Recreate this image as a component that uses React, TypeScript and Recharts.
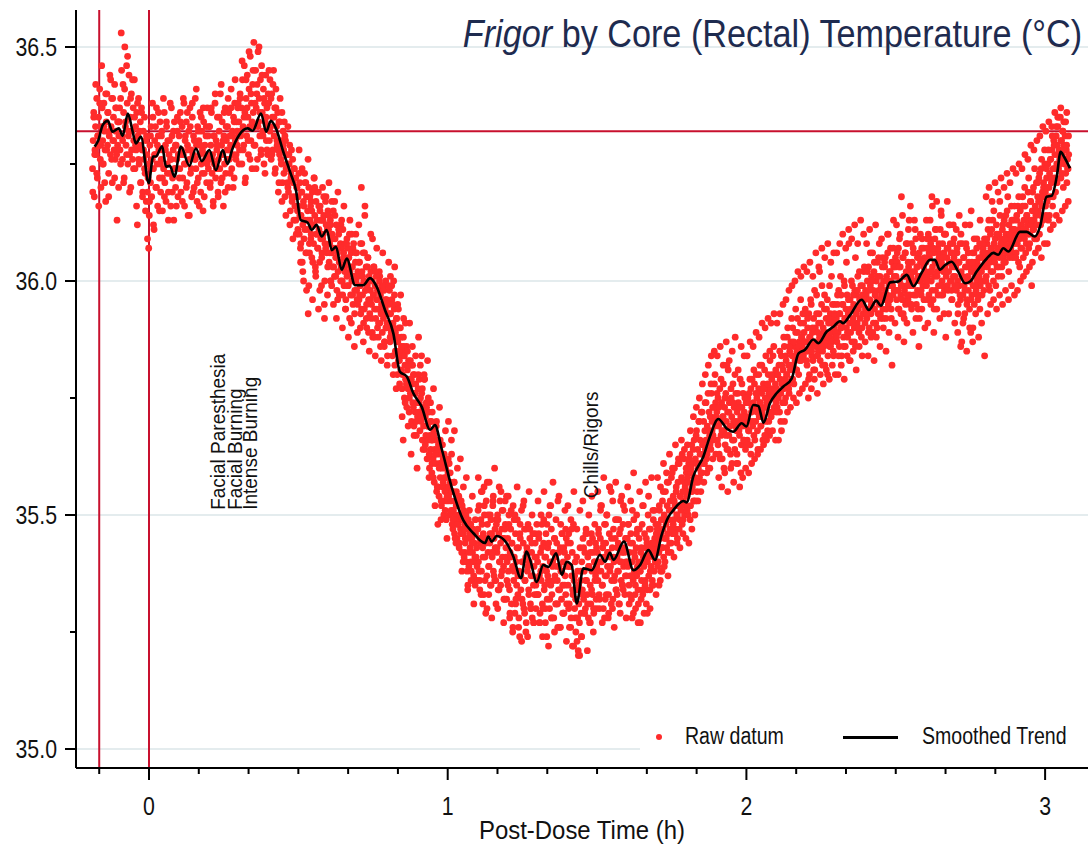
import React from 'react';
import { ComposedChart, Scatter, XAxis, YAxis, CartesianGrid, ReferenceLine, Legend } from 'recharts';

const FONT = "'Liberation Sans', Arial, sans-serif";
const NARROW = 0.82; // Arial Narrow look
const RED = '#ff2b2b';
const CRIMSON = '#c8102e';
const NAVY = '#1e2b4f';

// smoothed trend (h, °C)
const trendTime = [
  -0.182, -0.17, -0.155, -0.138, -0.122, -0.101, -0.088, -0.071, -0.055, -0.044, -0.027, -0.001,
  0.014, 0.023, 0.044, 0.057, 0.07, 0.085, 0.107, 0.135, 0.157, 0.177, 0.202, 0.224, 0.247, 0.263,
  0.278, 0.302, 0.33, 0.347, 0.375, 0.392, 0.408, 0.425, 0.45, 0.474, 0.492, 0.508, 0.531, 0.545,
  0.561, 0.578, 0.595, 0.612, 0.626, 0.645, 0.662, 0.69, 0.717, 0.74, 0.762, 0.79, 0.818, 0.84,
  0.863, 0.885, 0.913, 0.941, 0.957, 0.98, 1.013, 1.052, 1.086, 1.125, 1.136, 1.147, 1.164, 1.197,
  1.22, 1.245, 1.264, 1.276, 1.298, 1.32, 1.337, 1.363, 1.382, 1.398, 1.415, 1.432, 1.454, 1.482,
  1.51, 1.527, 1.543, 1.555, 1.59, 1.622, 1.644, 1.672, 1.694, 1.716, 1.739, 1.755, 1.789, 1.8,
  1.822, 1.856, 1.878, 1.906, 1.934, 1.956, 1.984, 2.0, 2.023, 2.04, 2.057, 2.079, 2.101, 2.123,
  2.152, 2.174, 2.196, 2.224, 2.241, 2.269, 2.291, 2.313, 2.324, 2.347, 2.386, 2.41, 2.435, 2.45,
  2.481, 2.509, 2.537, 2.559, 2.587, 2.615, 2.631, 2.648, 2.665, 2.687, 2.709, 2.732, 2.749, 2.771,
  2.805, 2.827, 2.843, 2.86, 2.877, 2.916, 2.938, 2.966, 2.983, 3.005, 3.022, 3.039, 3.052, 3.063,
  3.083,
];
const trendTemp = [
  36.287, 36.3, 36.333, 36.342, 36.319, 36.326, 36.31, 36.358, 36.32, 36.294, 36.308, 36.209,
  36.266, 36.266, 36.288, 36.244, 36.246, 36.223, 36.287, 36.246, 36.283, 36.256, 36.28, 36.237, 36.28, 36.25,
  36.28, 36.312, 36.326, 36.321, 36.358, 36.319, 36.342, 36.326, 36.275, 36.23, 36.194, 36.13, 36.125, 36.109,
  36.12, 36.095, 36.109, 36.066, 36.073, 36.024, 36.048, 35.991, 35.991, 36.006, 35.988, 35.938, 35.888, 35.806,
  35.796, 35.76, 35.731, 35.682, 35.692, 35.641, 35.56, 35.489, 35.461, 35.44, 35.454, 35.443, 35.455, 35.44,
  35.411, 35.365, 35.422, 35.404, 35.357, 35.393, 35.389, 35.418, 35.372, 35.4, 35.393, 35.311, 35.386, 35.382,
  35.415, 35.4, 35.419, 35.404, 35.443, 35.382, 35.393, 35.425, 35.404, 35.457, 35.496, 35.51, 35.53, 35.527,
  35.582, 35.625, 35.668, 35.705, 35.685, 35.678, 35.696, 35.689, 35.735, 35.733, 35.697, 35.739, 35.76, 35.774,
  35.792, 35.845, 35.853, 35.875, 35.867, 35.892, 35.902, 35.914, 35.91, 35.927, 35.96, 35.938, 35.958, 35.947,
  35.997, 35.999, 36.013, 35.989, 36.018, 36.045, 36.045, 36.024, 36.034, 36.041, 36.02, 35.995, 35.999, 36.02,
  36.048, 36.06, 36.056, 36.07, 36.063, 36.105, 36.105, 36.095, 36.116, 36.18, 36.182, 36.223, 36.276, 36.266,
  36.241,
];

// raw readings, hundredths of a degree above 35 °C; one string per time block (see blockEdges)
const blockEdges = [
  -0.19, -0.1, 0, 0.1, 0.2, 0.3, 0.4, 0.5, 0.6, 0.7, 0.8, 0.9, 1.0, 1.1, 1.2, 1.3, 1.4, 1.5, 1.6,
  1.7, 1.8, 1.9, 2.0, 2.1, 2.2, 2.3, 2.4, 2.5, 2.6, 2.7, 2.8, 2.9, 3.0, 3.08,
];
const preDoseRaw = [
  '124 130 136 118 128 133 127 139 122 131 135 129 141 126 120 133 137 130 125 138 132 128 117 134 140 129 136 123 131 144 127 133 139 121 130 135 128 142 126 132 137 113 129 134 131',
  '134 128 139 153 131 126 142 136 122 150 133 129 146 138 125 131 144 127 135 120 140 132 126 137 130 143 124 133 128 136 112 131 139 125 129 134 121 137 128 119 132 126 135 123 130 117 127 109 122 107',
];
const plateauRaw = [
  '114 129 121 133 118 126 135 124 111 130 127 120 137 125 116 131 128 122 134 119 126 132 115 128 124 136 121 129 117 133 125 130 119 127 123 138 116 126 131 122 128 113 134 124 120 129 126 132 118 127',
  '131 124 136 119 128 133 122 127 138 116 130 125 134 121 129 114 132 126 137 123 128 118 135 127 131 120 126 139 124 129 117 133 122 130 127 136 119 125 132 128 115 134 123 129 126 131 121 137 127 124',
  '126 133 120 129 136 123 127 117 131 125 138 122 130 128 135 119 126 132 124 140 121 129 134 127 116 131 125 137 123 130 128 133 120 136 126 131 129 141 124 132 127 135 122 138 130 126 134 129 137 131',
  '134 128 140 131 137 125 143 133 129 146 136 122 139 131 144 135 127 141 133 148 130 138 124 142 136 151 133 129 145 137 140 126 149 134 139 131 143 128 146 136 132 141 125 138 134 144 130 137 127 140',
  '138 130 143 133 126 140 135 128 145 131 137 124 141 133 129 136 119 134 127 139 130 125 136 121 132 128 134 118 130 124 127 121 133 119 125 129 115 123 128 117 126 121 113 124 118 122 110 120 115 118',
];
const coolingRaw = [
  '116 110 121 107 114 119 104 112 117 109 123 113 106 118 111 115 93 120 108 113 116 110 105 119 112 108 122 114 103 117 110 113 107 119 111 104 116 109 113 106 120 110 114 95 108 117 112 106 111 115',
  '111 104 108 113 100 106 110 103 115 107 101 109 105 112 98 106 102 110 104 97 108 103 107 100 111 105 99 103 108 96 104 101 107 99 105 110 102 97 106 100 103 95 108 101 98 104 100 106 96 102',
  '101 96 104 99 93 120 102 97 106 100 94 116 98 103 90 99 105 96 101 93 98 102 95 100 88 97 103 94 99 92 101 96 90 98 94 102 91 97 93 99 89 95 92 98 87 94 90 96 91 93',
  '95 90 98 87 93 89 96 84 91 100 94 82 89 85 92 80 87 83 90 78 85 81 88 77 84 66 86 75 82 79 85 73 81 77 83 72 79 76 82 70 78 74 80 69 76 72 78 67 74 71',
  '77 72 79 68 75 71 76 66 73 69 80 64 71 67 73 62 69 66 72 60 67 64 70 59 66 62 68 57 64 61 66 55 63 48 65 54 61 58 63 52 60 56 62 50 58 55 60 49 56 53',
  '59 54 61 50 57 53 63 48 55 51 57 46 53 50 55 45 52 48 54 44 50 47 53 42 49 46 51 41 48 45 50 40 47 34 49 39 46 43 48 38 45 42 47 37 44 41 46 36 43 40',
];
const troughRaw = [
  '47 40 52 36 44 49 38 55 43 46 33 50 41 45 53 37 48 42 39 57 44 35 49 46 41 52 38 45 60 43 36 48 42 50 34 46 40 53 44 37 47 41 51 39 45 32 48 43 54 40',
  '45 38 50 34 42 47 31 44 39 52 36 41 29 46 40 35 49 33 43 38 24 45 37 51 32 40 44 30 47 36 41 27 43 38 48 34 40 45 31 37 42 28 46 35 39 33 44 30 41 36',
  '40 33 45 37 29 42 36 48 31 39 44 34 41 27 46 38 32 43 36 50 30 40 35 47 33 39 42 28 45 37 41 31 44 36 53 34 39 26 43 38 32 46 35 40 29 42 37 33 45 39',
  '41 35 46 31 39 44 28 37 42 33 48 36 30 40 25 34 23 38 21 31 27 43 36 29 40 34 45 32 38 42 30 47 36 33 41 28 39 44 35 31 46 38 33 42 29 40 36 44 32 39',
  '42 36 47 33 40 45 38 52 35 43 30 41 48 37 44 33 50 39 42 29 46 38 41 55 36 43 32 47 40 37 45 34 49 41 38 44 31 46 40 53 36 42 35 48 39 43 33 45 40 37',
  '45 39 48 35 42 37 46 32 40 44 36 49 38 41 30 43 37 47 34 40 45 38 27 42 36 48 33 41 39 46 35 43 31 44 40 50 37 42 34 47 39 44 36 51 41 38 45 42 48 43',
];
const rewarmingRaw = [
  '44 39 48 42 51 45 38 49 43 53 47 41 50 45 55 48 43 52 46 57 49 44 53 47 58 51 46 54 49 60 52 47 55 50 45 57 52 61 49 54 51 58 48 55 53 62 50 56 52 59',
  '54 58 50 61 55 63 52 59 65 56 61 53 66 58 62 57 68 55 64 60 70 58 66 61 72 59 65 63 70 61 68 64 74 62 69 66 60 72 67 71 64 76 68 73 66 70 78 69 74 71',
  '72 66 75 69 63 77 70 67 74 62 71 78 68 73 65 76 70 64 72 81 67 74 69 63 75 71 66 78 70 73 64 69 76 68 72 61 74 70 67 79 71 65 73 69 76 66 72 70 64 74',
  '71 66 74 68 76 70 65 77 72 79 69 74 67 78 73 70 80 75 68 73 77 71 82 74 69 76 72 66 78 73 81 75 70 77 74 68 80 76 72 83 77 71 79 75 84 76 73 80 78 74',
  '77 73 80 75 82 72 79 76 84 78 74 81 77 86 79 75 83 80 88 78 82 76 85 81 87 79 84 90 82 78 86 83 89 81 85 92 84 80 87 85 91 83 88 86 93 84 89 87 94 85',
  '87 82 90 85 93 80 88 86 95 84 89 83 92 87 81 90 86 97 84 89 85 93 88 83 91 87 99 85 90 86 94 82 89 92 87 96 84 91 88 86 93 89 101 87 92 85 90 95 88 91',
  '92 87 95 89 98 86 93 90 97 84 91 95 88 100 92 86 94 90 97 88 93 108 91 96 89 94 87 99 92 95 90 98 86 93 97 91 101 94 89 96 92 99 95 90 97 93 102 96 91 98',
  '97 92 100 94 103 90 96 99 93 101 95 89 98 102 94 97 91 100 96 104 93 98 95 101 92 99 97 105 94 100 96 103 98 92 101 97 106 95 99 102 96 100 94 104 99 97 103 101 98 105',
  '101 96 104 98 107 94 100 103 97 118 99 105 93 101 98 106 95 102 99 108 96 103 100 97 116 101 94 104 99 106 97 102 100 109 95 103 98 101 105 92 100 104 97 107 101 99 103 96 105 102',
  '104 99 107 101 110 97 105 102 108 100 118 103 96 106 101 109 98 104 117 102 107 99 105 103 111 97 104 100 108 102 106 98 103 110 101 105 99 107 102 104 112 100 106 98 103 108 101 105 99 104',
  '103 98 106 100 95 104 99 108 96 102 87 101 97 105 99 93 103 100 107 96 101 98 104 94 100 89 102 97 106 99 103 95 101 104 98 107 100 96 103 101 108 99 105 102 97 106 103 100 109 104',
  '105 101 108 103 111 99 106 104 110 102 107 105 113 100 108 104 109 106 112 103 107 101 110 105 114 106 109 103 111 107 105 113 108 104 110 106 115 109 107 112 105 110 108 116 111 106 113 109 111 108',
  '110 106 113 108 116 104 111 109 115 107 112 110 118 105 113 109 116 111 108 114 112 119 107 113 110 117 112 99 115 111 120 113 109 116 114 121 112 118 115 122 110 117 114 124 116 119 113 121 118 125',
  '119 114 122 117 125 113 120 123 118 126 121 128 116 124 130 122 127 119 131 125 129 133 124 128 126 135 122 130 127 132 120 129 125 131 123 128 121 126 124 127',
];
// second probe channel, same blocks
const probeTwoRaw = [
  '119 135 127 142 123 131 116 138 129 146 125 133 121 140 128 136 118 132 143 126 139 130 122 137 127 134 120',
  '137 125 145 130 121 141 134 127 148 132 119 139 128 143 124 135 129 116 138 126 132 121 136 118 128 124 115 131 119 125',
  '117 131 124 138 112 127 133 120 129 136 115 125 131 122 139 118 128 134 123 113 130 126 137 119 132 124 129 116 135 127',
  '122 134 127 117 139 125 131 120 136 128 114 133 124 138 119 130 126 141 121 132 116 129 135 123 137 118 127 133 125 131',
  '133 121 137 126 116 131 140 124 129 118 135 127 142 122 130 136 119 133 126 139 128 123 137 131 120 134 143 127 132 138',
  '125 139 132 147 128 135 121 143 137 130 149 126 140 134 145 129 138 124 142 133 150 136 127 144 131 139 123 135 128 133',
  '145 132 139 127 142 135 123 137 130 128 121 134 126 117 129 123 131 114 125 120 127 112 122 118 109 124 116 113 120 111',
  '123 114 108 119 102 116 111 121 106 113 99 118 109 115 104 112 120 101 110 107 116 98 113 105 109 118 100 107 112 103',
  '114 106 112 99 109 103 117 101 107 96 111 104 100 113 97 106 102 94 108 99 105 92 103 110 97 101 93 106 98 95',
  '104 97 108 94 101 91 106 98 95 103 89 100 96 92 109 97 88 102 94 98 91 100 86 95 93 99 87 96 90 84',
  '99 93 101 88 95 90 97 85 92 88 94 83 90 86 80 88 84 91 78 85 82 75 83 79 86 73 80 76 70 74',
  '80 74 82 70 77 72 79 65 74 69 75 63 70 66 72 58 67 63 69 56 64 60 66 53 61 57 63 51 58 54',
  '62 56 59 51 55 49 57 45 52 48 54 43 50 46 52 40 47 44 49 38 45 42 48 36 44 40 46 35 41 39',
  '51 38 45 33 48 41 56 36 44 30 50 39 46 35 42 53 37 47 31 43 49 34 40 55 38 45 32 47 41 36',
  '35 48 29 41 44 26 38 50 32 43 37 28 46 34 40 31 53 36 25 42 39 33 47 30 44 37 27 41 35 48',
  '33 46 27 38 43 30 49 35 41 24 37 44 32 52 28 40 36 45 31 39 26 42 34 48 38 29 43 35 47 31',
  '44 30 39 26 47 34 22 37 32 41 28 35 20 38 24 33 43 29 36 46 31 39 27 42 34 45 30 40 37 43',
  '38 46 32 51 40 35 44 28 48 37 42 33 56 39 45 30 41 36 49 34 43 38 31 47 40 35 52 42 37 45',
  '40 48 33 44 37 51 29 42 35 46 39 31 47 38 43 34 52 40 36 45 29 41 47 38 43 35 49 44 40 46',
  '47 40 52 36 46 43 55 39 49 45 57 42 51 47 44 59 48 53 46 56 50 61 47 54 52 63 49 57 55 60',
  '51 57 62 49 60 55 64 58 53 67 61 57 70 63 59 72 65 61 74 66 63 76 68 65 78 70 67 73 80 71',
  '76 65 73 62 79 68 71 60 75 67 82 64 72 69 77 61 74 66 80 70 63 76 68 73 59 78 71 66 75 69',
  '65 75 68 79 63 73 70 81 66 76 72 64 80 74 69 82 71 77 67 84 73 78 70 85 75 80 72 86 77 81',
  '72 80 76 85 70 82 78 88 74 84 80 90 77 86 82 92 79 87 84 94 81 89 86 83 96 88 85 91 87 93',
  '83 92 79 88 96 85 90 81 98 87 93 84 91 102 86 95 82 89 97 88 94 80 92 99 86 91 95 84 93 89',
  '88 97 84 93 101 90 95 86 99 92 104 89 96 83 94 100 91 97 87 105 93 98 90 102 95 88 99 96 103 94',
  '93 102 89 98 106 95 100 91 104 97 88 101 96 108 93 99 103 90 97 105 94 100 110 96 102 92 99 107 98 103',
  '98 106 94 103 110 99 96 105 92 101 108 97 104 113 99 95 102 107 100 111 97 103 94 106 101 98 109 104 96 102',
  '100 109 96 106 113 102 98 107 94 104 111 101 97 108 103 115 99 105 93 110 102 107 98 112 104 100 96 106 109 101',
  '99 107 93 104 97 110 101 91 105 98 108 95 103 100 112 96 104 90 106 99 102 109 97 105 94 103 100 108 98 106',
  '100 109 104 113 98 107 111 102 115 105 99 110 106 103 117 108 101 112 104 109 114 106 118 102 110 107 113 105 111 116',
  '105 114 109 118 103 112 107 116 111 120 106 114 110 122 108 117 113 119 111 124 115 109 121 117 123 112 126 118 120 128',
  '116 124 120 128 114 126 122 131 118 129 124 133 121 127 135 125 130 123 132 128 126 134 129 124 131',
];
// wider-spread readings from 0.5 h onwards (block 7 = 0.5–0.6 h)
const probeThreeFirstBlock = 7;
const probeThreeRaw = [
  '128 104 124 100 121 98 126 106 117 96 122 102 119 94 115 99 113 92 118 97',
  '121 100 117 95 114 92 119 97 112 90 116 94 109 88 113 91 107 86 110 89',
  '112 90 108 87 114 92 105 85 110 89 103 84 107 88 101 83 106 86 100 82',
  '104 88 99 80 103 77 95 84 97 71 92 74 86 69 91 63 82 67 84 60',
  '88 72 84 64 79 66 83 58 74 61 77 52 70 56 73 49 65 53 68 45',
  '70 55 66 47 68 44 60 49 62 38 56 42 58 35 51 40 54 31 49 36',
  '58 34 55 31 52 29 57 33 50 28 54 36 49 30 56 35 51 27 53 32',
  '54 28 51 25 49 31 56 26 48 23 52 29 47 24 55 30 50 27 46 33',
  '53 27 50 24 55 30 48 22 52 28 57 25 49 31 54 26 46 29 51 23',
  '52 26 49 22 55 28 47 20 51 24 53 29 46 21 50 27 54 25 48 30',
  '55 30 52 27 58 32 50 28 56 31 53 26 57 33 49 29 54 34 51 28',
  '56 31 53 28 59 33 50 27 55 32 52 29 57 34 54 30 58 35 51 33',
  '58 35 56 38 61 40 59 37 63 42 60 41 65 44 62 43 66 46 64 45',
  '65 44 68 47 71 50 73 53 75 55 78 57 80 59 82 60 84 62 85 63',
  '84 58 86 56 82 59 87 55 83 60 85 57 88 61 81 56 86 58 84 60',
  '84 59 87 61 86 62 89 63 88 64 91 65 90 66 92 67 91 68 93 66',
  '91 66 93 68 95 70 96 72 98 73 99 75 100 74 102 76 101 77 103 78',
  '102 75 104 77 101 79 106 76 103 80 107 78 105 81 108 79 104 82 106 80',
  '106 80 108 82 110 79 107 84 111 83 109 85 112 81 108 86 113 84 110 87',
  '108 84 111 88 106 83 112 90 105 86 109 92 104 85 110 89 107 82 113 91',
  '112 88 109 93 114 87 106 91 111 95 108 89 113 92 105 86 110 94 107 90',
  '113 91 109 95 116 89 111 94 106 92 114 97 110 88 117 93 108 96 112 91',
  '111 89 114 86 108 92 112 85 106 90 115 87 109 93 104 88 113 91 107 84',
  '118 93 120 95 117 96 121 94 119 97 122 95 120 98 123 96 121 99 124 97',
  '123 98 125 100 124 101 127 102 126 103 129 104 128 106 130 107 131 105 133 108',
  '132 108 134 111 133 112 136 114 135 113 137 115 134 116 136 117',
];

const annotations = [
  { t: 0.254, temp: 35.511, text: 'Facial Paresthesia' },
  { t: 0.31, temp: 35.511, text: 'Facial Burning' },
  { t: 0.362, temp: 35.511, text: 'Intense Burning' },
  { t: 1.503, temp: 35.536, text: 'Chills/Rigors' },
];

const referenceTimes = [-1 / 6, 0];
const referenceTemp = 36.32;

const xDomain = [-0.2444, 3.1436];
const yDomain = [34.9594, 36.579];
const xMajorTicks = [0, 1, 2, 3];
const xTicks = [-1 / 6, 0, 1 / 6, 2 / 6, 3 / 6, 4 / 6, 5 / 6, 1, 7 / 6, 8 / 6, 9 / 6, 10 / 6, 11 / 6, 2,
  13 / 6, 14 / 6, 15 / 6, 16 / 6, 17 / 6, 3];
const yMajorTicks = [35, 35.5, 36, 36.5];
const yTicks = [35, 35.25, 35.5, 35.75, 36, 36.25, 36.5];

const toPoints = (blocks: string[], first = 0) =>
  blocks.flatMap((block, k) => {
    const vals = block.trim().split(/\s+/).map(Number);
    const a = blockEdges[first + k];
    const span = blockEdges[first + k + 1] - a;
    return vals.map((v, i) => ({ t: a + (span * (i + 0.5)) / vals.length, temp: 35 + v / 100 }));
  });
const rawData = [
  ...toPoints(probeThreeRaw, probeThreeFirstBlock),
  ...toPoints([...preDoseRaw, ...plateauRaw, ...coolingRaw, ...troughRaw, ...rewarmingRaw]),
  ...toPoints(probeTwoRaw),
];
const trendData = trendTime.map((t, i) => ({ t, temp: trendTemp[i] }));

// grid rows only at the labelled temperatures
const gridRows = ({ offset }: any) =>
  yMajorTicks.map((v) => offset.top + ((yDomain[1] - v) / (yDomain[1] - yDomain[0])) * offset.height);

const XTick = (props: any) => {
  const { x, y, payload } = props;
  const major = xMajorTicks.includes(payload.value);
  return (
    <g>
      <line x1={x} x2={x} y1={y} y2={y + (major ? 12 : 6)} stroke="#000" strokeWidth={2} />
      {major && (
        <text
          transform={`translate(${x},${y + 47}) scale(${NARROW},1)`}
          textAnchor="middle"
          fontSize={26}
          fontFamily={FONT}
          fill="#111"
        >
          {payload.value}
        </text>
      )}
    </g>
  );
};

const YTick = (props: any) => {
  const { x, y, payload } = props;
  const major = yMajorTicks.includes(payload.value);
  return (
    <g>
      <line x1={x} x2={x - (major ? 11 : 6)} y1={y} y2={y} stroke="#000" strokeWidth={2} />
      {major && (
        <text
          transform={`translate(${x - 19},${y + 9}) scale(${NARROW},1)`}
          textAnchor="end"
          fontSize={26}
          fontFamily={FONT}
          fill="#111"
        >
          {payload.value.toFixed(1)}
        </text>
      )}
    </g>
  );
};

const Dot = (p: any) => <circle cx={p.cx} cy={p.cy} r={3.4} fill={RED} />;
const NoDot = () => <g />;

const Note = (p: any) => (
  <text
    transform={`translate(${p.cx},${p.cy}) rotate(-90) scale(0.95,1)`}
    fontSize={20}
    fontFamily={FONT}
    fill="#111"
  >
    {p.payload.text}
  </text>
);

const narrowText = (origin: string, k = NARROW): React.CSSProperties => ({
  transform: `scaleX(${k})`,
  transformOrigin: origin,
  whiteSpace: 'nowrap',
});

const LegendBox = () => (
  <div style={{ position: 'relative', width: 448, height: 38, background: '#fff', fontFamily: FONT, fontSize: 23, color: '#111' }}>
    <div style={{ position: 'absolute', left: 16, top: 16, width: 6, height: 6, borderRadius: 3, background: RED }} />
    <div style={{ position: 'absolute', left: 45, top: 4, lineHeight: '28px', ...narrowText('left center', 0.85) }}>Raw datum</div>
    <div style={{ position: 'absolute', left: 203, top: 18, width: 55, height: 2.5, background: '#000' }} />
    <div style={{ position: 'absolute', left: 282, top: 4, lineHeight: '28px', ...narrowText('left center', 0.85) }}>Smoothed Trend</div>
  </div>
);

export default function App() {
  return (
    <div style={{ position: 'absolute', left: 0, top: 0, width: 1090, height: 851, background: '#fff' }}>
      <ComposedChart width={1090} height={851} margin={{ top: 10, right: 2, bottom: 23, left: 0 }}>
        <CartesianGrid vertical={false} stroke="#e4ecee" strokeWidth={2} horizontalCoordinatesGenerator={gridRows} />
        <XAxis
          type="number"
          dataKey="t"
          domain={xDomain}
          allowDataOverflow
          ticks={xTicks}
          interval={0}
          tick={<XTick />}
          tickLine={false}
          tickSize={0}
          tickMargin={0}
          height={60}
          axisLine={{ stroke: '#000', strokeWidth: 2 }}
        />
        <YAxis
          type="number"
          dataKey="temp"
          domain={yDomain}
          allowDataOverflow
          ticks={yTicks}
          interval={0}
          tick={<YTick />}
          tickLine={false}
          tickSize={0}
          tickMargin={0}
          width={76}
          axisLine={{ stroke: '#000', strokeWidth: 2 }}
        />
        <Legend
          layout="vertical"
          align="center"
          verticalAlign="middle"
          content={<LegendBox />}
          wrapperStyle={{ left: 640, top: 718, width: 448, height: 38 }}
        />
        <Scatter name="Raw datum" data={rawData} shape={Dot} isAnimationActive={false} />
        {referenceTimes.map((t) => (
          <ReferenceLine key={t} x={t} stroke={CRIMSON} strokeWidth={2} />
        ))}
        <ReferenceLine y={referenceTemp} stroke={CRIMSON} strokeWidth={2} />
        <Scatter
          name="Smoothed Trend"
          data={trendData}
          shape={NoDot}
          line={{ stroke: '#000', strokeWidth: 2.6 }}
          lineType="joint"
          lineJointType="monotoneX"
          isAnimationActive={false}
        />
        <Scatter data={annotations} shape={Note} isAnimationActive={false} legendType="none" />
      </ComposedChart>
      <div
        style={{ position: 'absolute', right: 8, top: 12, fontFamily: FONT, fontSize: 38, lineHeight: '44px', color: NAVY, ...narrowText('right center', 0.9) }}
      >
        <i>Frigor</i> by Core (Rectal) Temperature (°C)
      </div>
      <div
        style={{ position: 'absolute', left: 382, width: 400, top: 815, textAlign: 'center', fontFamily: FONT, fontSize: 26, lineHeight: '30px', color: '#111', ...narrowText('center center', 0.92) }}
      >
        Post-Dose Time (h)
      </div>
    </div>
  );
}
